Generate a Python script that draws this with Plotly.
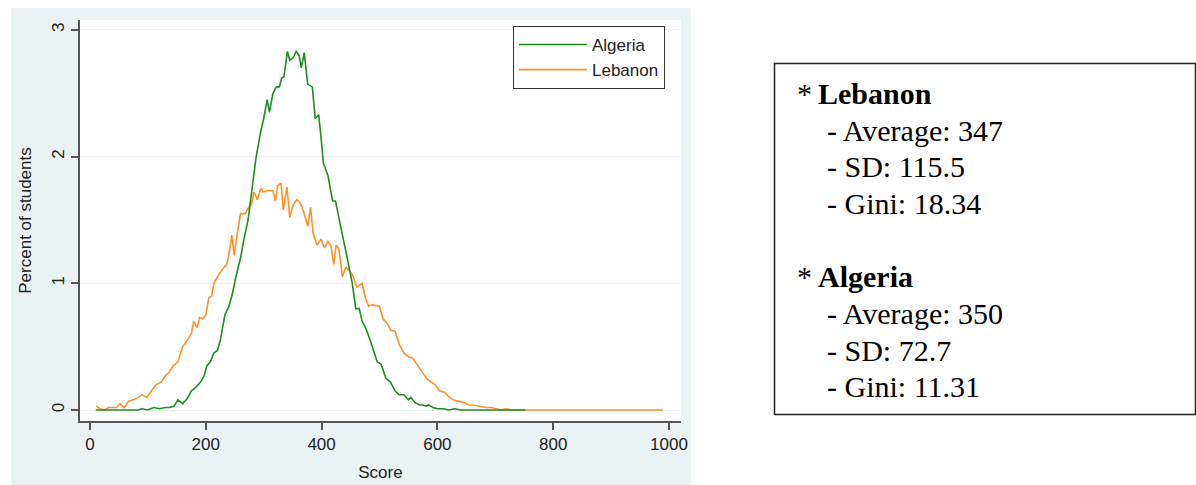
import plotly.graph_objects as go

# ---- data ----
algeria_score = [10, 83, 90, 100, 110, 120, 130, 137, 145, 152, 160, 168, 175, 183, 191, 197, 202, 208, 214,
                 220, 225, 233, 240, 245, 252, 260, 266, 273, 280, 287, 295, 300, 306, 310, 316, 322, 327, 331,
                 335, 341, 345, 351, 356, 361, 365, 370, 376, 384, 389, 395, 398, 403, 411, 419, 424, 430, 436,
                 442, 448, 453, 459, 465, 470, 476, 484, 490, 496, 503, 511, 519, 527, 534, 542, 550, 554, 561,
                 569, 575, 581, 585, 592, 600, 610, 620, 630, 640, 650, 700, 752]
algeria_pct = [0.0, 0.0, 0.01, 0.0, 0.02, 0.01, 0.02, 0.02, 0.03, 0.08, 0.05, 0.09, 0.15, 0.18, 0.22, 0.27, 0.35,
               0.38, 0.45, 0.47, 0.55, 0.75, 0.82, 0.9, 1.05, 1.2, 1.35, 1.5, 1.75, 2.0, 2.2, 2.3, 2.45, 2.35,
               2.5, 2.55, 2.55, 2.62, 2.63, 2.83, 2.76, 2.78, 2.83, 2.8, 2.7, 2.82, 2.57, 2.55, 2.3, 2.33, 2.2,
               1.95, 1.85, 1.65, 1.65, 1.5, 1.38, 1.25, 1.1, 1.0, 0.8, 0.8, 0.7, 0.65, 0.55, 0.47, 0.38, 0.36,
               0.25, 0.22, 0.15, 0.12, 0.12, 0.08, 0.1, 0.06, 0.04, 0.04, 0.03, 0.04, 0.02, 0.01, 0.01, 0.0,
               0.01, 0.0, 0.0, 0.0, 0.0]

lebanon_score = [11, 17, 25, 32, 40, 46, 52, 59, 67, 75, 84, 90, 98, 106, 114, 123, 130, 137, 144, 152, 160, 168,
                 175, 179, 185, 189, 195, 200, 205, 210, 214, 220, 227, 236, 239, 245, 249, 254, 260, 268, 274,
                 279, 283, 289, 295, 299, 305, 310, 316, 320, 324, 330, 334, 340, 345, 351, 357, 362, 368, 376,
                 381, 385, 392, 399, 405, 411, 416, 421, 425, 430, 436, 442, 448, 453, 461, 470, 476, 481, 488,
                 500, 506, 514, 519, 527, 534, 542, 550, 557, 565, 573, 581, 589, 596, 604, 612, 619, 627, 635,
                 646, 654, 662, 673, 685, 693, 701, 710, 717, 730, 990]
lebanon_pct = [0.03, 0.01, 0.0, 0.02, 0.02, 0.02, 0.05, 0.02, 0.07, 0.08, 0.1, 0.12, 0.1, 0.15, 0.2, 0.22, 0.27,
               0.3, 0.35, 0.38, 0.5, 0.55, 0.6, 0.7, 0.65, 0.73, 0.72, 0.75, 0.88, 0.9, 1.0, 1.05, 1.1, 1.15, 1.2,
               1.38, 1.22, 1.38, 1.55, 1.55, 1.6, 1.62, 1.72, 1.66, 1.75, 1.72, 1.73, 1.73, 1.73, 1.65, 1.77,
               1.79, 1.58, 1.76, 1.52, 1.62, 1.66, 1.64, 1.58, 1.45, 1.6, 1.4, 1.3, 1.35, 1.28, 1.33, 1.3, 1.15,
               1.3, 1.27, 1.05, 1.13, 1.1, 1.07, 0.97, 1.0, 0.88, 0.82, 0.83, 0.82, 0.72, 0.68, 0.63, 0.62, 0.52,
               0.45, 0.42, 0.41, 0.36, 0.3, 0.25, 0.22, 0.2, 0.15, 0.14, 0.11, 0.08, 0.07, 0.06, 0.04, 0.04,
               0.03, 0.02, 0.02, 0.01, 0.0, 0.01, 0.0, 0.0]

x_ticks = [0, 200, 400, 600, 800, 1000]
y_ticks = [0, 1, 2, 3]

stats_lines = [
    ("<b>Lebanon</b>", True),
    ("- Average: 347", False),
    ("- SD: 115.5", False),
    ("- Gini: 18.34", False),
    ("<b>Algeria</b>", True),
    ("- Average: 350", False),
    ("- SD: 72.7", False),
    ("- Gini: 11.31", False),
]

# ---- layout geometry (pixels) ----
W, H = 1196, 485
PL, PR, PT, PB = 80, 681, 20, 421


def px(x):
    return (x - PL) / (PR - PL)


def py(y):
    return (PB - y) / (PB - PT)


GREEN = "rgb(30,140,30)"
ORANGE = "rgb(255,145,40)"
BG = "#eaf2f3"
AX = "#555555"
SANS = "Liberation Sans, Arial, sans-serif"
SERIF = "Liberation Serif, Times New Roman, serif"
SERIF_SIZE = 30

fig = go.Figure()
fig.add_trace(go.Scatter(x=lebanon_score, y=lebanon_pct, mode="lines", name="Lebanon",
                         line=dict(color=ORANGE, width=1.6)))
fig.add_trace(go.Scatter(x=algeria_score, y=algeria_pct, mode="lines", name="Algeria",
                         line=dict(color=GREEN, width=1.6)))

shapes = [
    dict(type="rect", xref="paper", yref="paper", x0=px(11), x1=px(690.5), y0=py(486), y1=py(8),
         fillcolor=BG, line=dict(width=0), layer="below"),
    dict(type="rect", xref="paper", yref="paper", x0=0, x1=1, y0=0, y1=1,
         fillcolor="white", line=dict(width=0), layer="below"),
    dict(type="rect", xref="paper", yref="paper", x0=px(774.5), x1=px(1195.5), y0=py(414.5), y1=py(63.5),
         fillcolor="rgba(0,0,0,0)", line=dict(color="#222222", width=1.5)),
]

annotations = []
ys = [93, 130, 166, 203, 276, 313, 350, 386]
for (txt, header), yy in zip(stats_lines, ys):
    if header:
        annotations.append(dict(xref="paper", yref="paper", x=px(795), y=py(yy), text="*",
                                showarrow=False, xanchor="left", yanchor="middle",
                                font=dict(family=SERIF, size=SERIF_SIZE, color="black")))
        annotations.append(dict(xref="paper", yref="paper", x=px(816), y=py(yy), text=txt,
                                showarrow=False, xanchor="left", yanchor="middle",
                                font=dict(family=SERIF, size=SERIF_SIZE, color="black")))
    else:
        annotations.append(dict(xref="paper", yref="paper", x=px(825), y=py(yy), text=txt,
                                showarrow=False, xanchor="left", yanchor="middle",
                                font=dict(family=SERIF, size=SERIF_SIZE, color="black")))

fig.update_layout(
    width=W, height=H,
    margin=dict(l=PL, r=W - PR, t=PT, b=H - PB, pad=0, autoexpand=False),
    paper_bgcolor="white",
    plot_bgcolor="white",
    font=dict(family=SANS, size=17, color="#222222"),
    showlegend=True,
    legend=dict(x=px(513), y=py(26), xanchor="left", yanchor="top",
                bgcolor="white", bordercolor="#333333", borderwidth=1,
                traceorder="reversed", font=dict(family=SANS, size=17, color="#222222"),
                itemwidth=68, tracegroupgap=0),
    xaxis=dict(range=[-17.3, 1020.8], tickvals=x_ticks, ticktext=[str(v) for v in x_ticks],
               showgrid=False, zeroline=False, showline=True, linecolor=AX, linewidth=1.5,
               ticks="outside", ticklen=7, tickwidth=1.5, tickcolor=AX, automargin=False,
               title=dict(text="Score", font=dict(size=17), standoff=13),
               tickfont=dict(size=17)),
    yaxis=dict(range=[-0.0868, 3.078], tickvals=y_ticks, ticktext=[str(v) for v in y_ticks],
               showgrid=True, gridcolor=BG, gridwidth=1, zeroline=False, showline=True,
               linecolor=AX, linewidth=1.5, ticks="outside", ticklen=7, tickwidth=1.5, tickcolor=AX,
               tickangle=-90, tickfont=dict(size=17), automargin=False,
               title=dict(text="Percent of students", font=dict(size=17), standoff=14)),
    shapes=shapes,
    annotations=annotations,
)

fig.write_html("out.html")
